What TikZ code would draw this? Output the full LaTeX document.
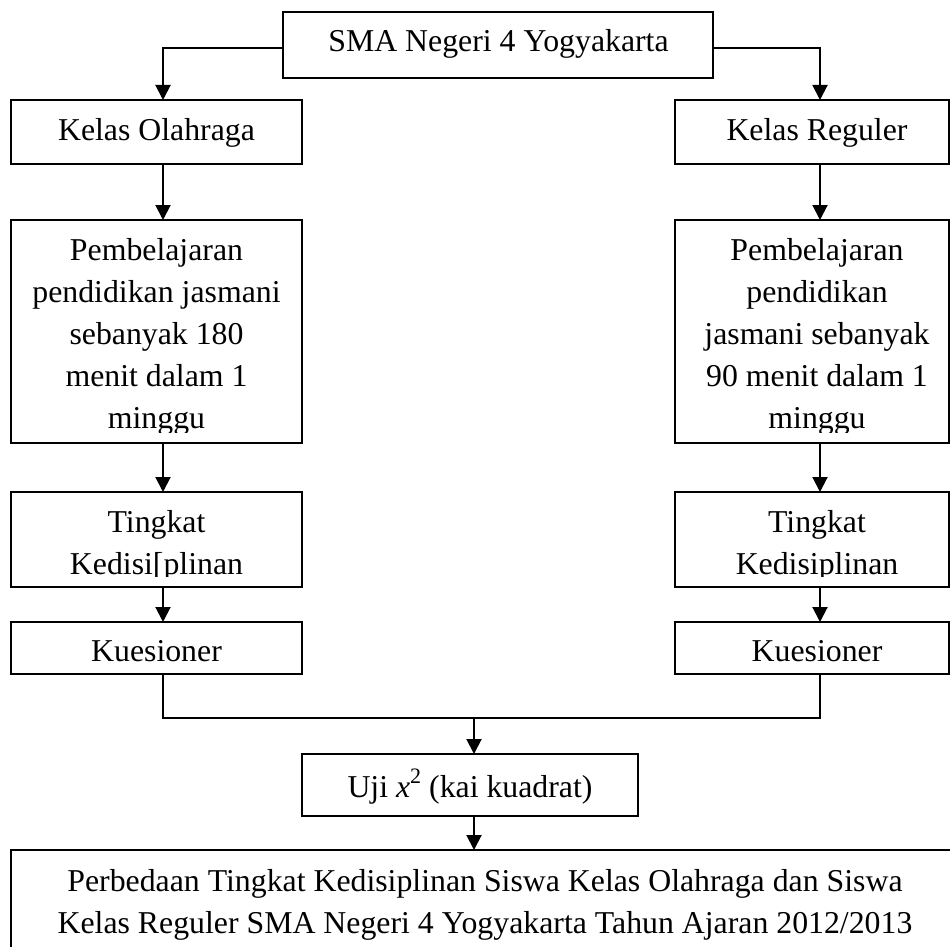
\documentclass[tikz,border=0pt]{standalone}
\usepackage{fontspec}
\setmainfont{Liberation Serif}
\usetikzlibrary{arrows.meta}
\begin{document}
\begin{tikzpicture}[x=1pt,y=-1pt,
  box/.style={draw,line width=2pt,inner sep=0pt,outer sep=0pt},
  txt/.style={inner sep=0pt,outer sep=0pt,align=center,font=\fontsize{31.8}{42}\selectfont},
  arr/.style={line width=2pt,-{Triangle[width=15pt,length=15pt]}},
  conn/.style={line width=2pt}]
\useasboundingbox (0,0) rectangle (950,947);
\clip (0,0) rectangle (950,947);
% boxes
\node[box,minimum width=430pt,minimum height=66pt] (sma) at (498,45) {};
\node[box,minimum width=291pt,minimum height=64pt] (ko) at (156.5,132) {};
\node[box,minimum width=274pt,minimum height=64pt] (kr) at (812,132) {};
\node[box,minimum width=291pt,minimum height=223pt] (p1) at (156.5,331.5) {};
\node[box,minimum width=274pt,minimum height=223pt] (p2) at (812,331.5) {};
\node[box,minimum width=291pt,minimum height=95pt] (t1) at (156.5,539.5) {};
\node[box,minimum width=274pt,minimum height=95pt] (t2) at (812,539.5) {};
\node[box,minimum width=291pt,minimum height=52pt] (q1) at (156.5,648) {};
\node[box,minimum width=274pt,minimum height=52pt] (q2) at (812,648) {};
\node[box,minimum width=336pt,minimum height=62pt] (uji) at (470,785) {};
\node[box,minimum width=948pt,minimum height=110pt] (res) at (485,905) {};
% texts
\node[txt,anchor=base] (smat) at (498.5,52) {SMA Negeri 4 Yogyakarta};
\node[txt,anchor=base] (kot) at (156.5,140) {Kelas Olahraga};
\node[txt,anchor=base] (krt) at (817,140) {Kelas Reguler};
\begin{scope}
\clip (11,220) rectangle (302,432);
\node[txt,anchor=north] (p1t) at (156.5,230.6) {\strut Pembelajaran\\pendidikan jasmani\\sebanyak 180\\menit dalam 1\\minggu};
\end{scope}
\begin{scope}
\clip (675,220) rectangle (949,432);
\node[txt,anchor=north] (p2t) at (817,230.6) {\strut Pembelajaran\\pendidikan\\jasmani sebanyak\\90 menit dalam 1\\minggu};
\end{scope}
\begin{scope}
\clip (11,492) rectangle (302,576);
\node[txt,anchor=north] (t1t) at (156.5,502.6) {\strut Tingkat\\Kedisi[plinan};
\end{scope}
\begin{scope}
\clip (675,492) rectangle (949,576);
\node[txt,anchor=north] (t2t) at (817,502.6) {\strut Tingkat\\Kedisiplinan};
\end{scope}
\node[txt,anchor=base] (q1t) at (156.5,661) {Kuesioner};
\node[txt,anchor=base] (q2t) at (817,661) {Kuesioner};
\node[txt,anchor=base] (ujit) at (470,797) {Uji {\itshape x}\raisebox{0.42em}{\fontsize{22}{22}\selectfont 2} (kai kuadrat)};
\node[txt,anchor=north] (rest) at (485,861.6) {\strut Perbedaan Tingkat Kedisiplinan Siswa Kelas Olahraga dan Siswa\\Kelas Reguler SMA Negeri 4 Yogyakarta Tahun Ajaran 2012/2013};
% connector columns
\coordinate (la) at (163,0);
\coordinate (ra) at (820,0);
\coordinate (jl) at (163,718);
\coordinate (jr) at (820,718);
\coordinate (jm) at (474,718);
% connectors
\draw[arr] ([yshift=-3pt]sma.west) -| (la |- ko.north);
\draw[arr] ([yshift=-3pt]sma.east) -| (ra |- kr.north);
\draw[arr] (la |- ko.south) -- (la |- p1.north);
\draw[arr] (ra |- kr.south) -- (ra |- p2.north);
\draw[arr] (la |- p1.south) -- (la |- t1.north);
\draw[arr] (ra |- p2.south) -- (ra |- t2.north);
\draw[arr] (la |- t1.south) -- (la |- q1.north);
\draw[arr] (ra |- t2.south) -- (ra |- q2.north);
\draw[conn] (la |- q1.south) -- (jl) -- (jr) -- (ra |- q2.south);
\draw[arr] (jm) -- (jm |- uji.north);
\draw[arr] (jm |- uji.south) -- (jm |- res.north);
\end{tikzpicture}
\end{document}
